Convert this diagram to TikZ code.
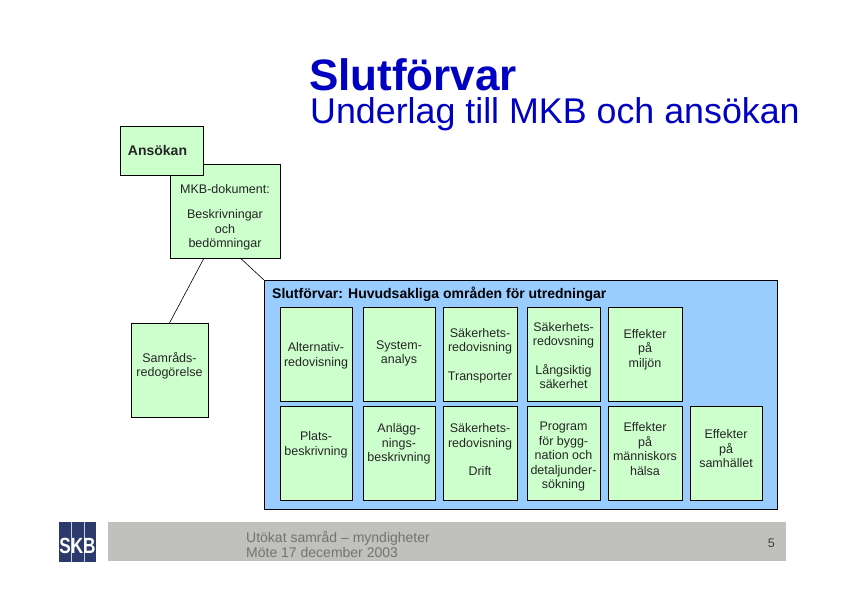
\documentclass[tikz,border=0pt]{standalone}
\usepackage{fontspec}
\setmainfont{Liberation Sans}
\usepackage[svgnames]{xcolor}
\usetikzlibrary{positioning}
\definecolor{paleGreen}{HTML}{CCFFCC}
\definecolor{skyBlue}{HTML}{99CCFF}
\definecolor{footGray}{HTML}{C0C0BC}
\definecolor{skbNavy}{HTML}{2B3A6B}
\definecolor{titleBlue}{HTML}{0000C0}

\begin{document}
\begin{tikzpicture}[
    x=1pt, y=-1pt,
    box/.style={draw, fill=paleGreen, line width=0.7pt, outer sep=0pt, inner sep=0pt, align=center, font=\fontsize{12.5}{14.5}\selectfont, text=black!85},
    areabox/.style={box, minimum width=73pt, minimum height=94pt},
    line/.style={draw, line width=0.6pt},
    foottext/.style={font=\fontsize{14}{14.5}\selectfont, text=black!55, align=left}
]
\useasboundingbox (0,0) rectangle (842,595);
% title
\node[anchor=base west, inner sep=0pt, font=\fontsize{44}{44}\bfseries\selectfont, text=titleBlue] (title) at (309,90) {Slutförvar};
\node[anchor=base west, inner sep=0pt, font=\fontsize{35.8}{36}\selectfont, text=titleBlue] (subtitle) at (310,123.5) {Underlag till MKB och ansökan};

% left column
\node[box, anchor=north west, minimum width=110pt, minimum height=94pt] (mkb) at (170,164) {\mbox{}\\[7.5pt]MKB-dokument:\\[11pt]Beskrivningar\\och\\bedömningar};
\node[box, anchor=north west, minimum width=83pt, minimum height=49pt, font=\fontsize{14}{14}\bfseries\selectfont] (ansokan) at (120,126) {Ansökan\hspace*{8pt}};
\node[box, anchor=north west, minimum width=77pt, minimum height=94pt] (samrad) at (131,323) {Samråds-\\redogörelse\\[-3.5pt]\mbox{}};

% blue area
\node[box, anchor=north west, fill=skyBlue, minimum width=513pt, minimum height=229pt] (main) at (264,280) {};
\node[anchor=base west, inner sep=0pt, font=\fontsize{14}{14}\bfseries\selectfont] (maintitle) at (272,298) {Slutförvar: Huvudsakliga områden för utredningar};

% upper row
\node[areabox, minimum width=72pt, anchor=north west] (alt) at (280,307) {\mbox{}\\[-1.5pt]Alternativ-\\redovisning};
\node[areabox, minimum width=72pt, right=11pt of alt] (sys) {\mbox{}\\[-6.5pt]System-\\analys};
\node[areabox, minimum width=74pt, right=8pt of sys] (trans) {\mbox{}\\[-2.5pt]Säkerhets-\\redovisning\\[14pt]Transporter};
\node[areabox, right=10pt of trans] (lang) {\mbox{}\\[-2.5pt]Säkerhets-\\redovsning\\[14pt]Långsiktig\\säkerhet};
\node[areabox, minimum width=74pt, right=8pt of lang] (miljo) {Effekter\\på\\miljön\\[-2.5pt]\mbox{}};

% lower row
\node[areabox, minimum width=72pt, below=5pt of alt] (plats) {Plats-\\beskrivning\\[4.5pt]\mbox{}};
\node[areabox, minimum width=72pt, below=5pt of sys] (anl) {Anlägg-\\nings-\\beskrivning\\[6.5pt]\mbox{}};
\node[areabox, minimum width=74pt, below=5pt of trans] (drift) {Säkerhets-\\redovisning\\[14pt]Drift\\[-7.5pt]\mbox{}};
\node[areabox, below=5pt of lang] (prog) {\mbox{}\\[1.5pt]Program\\för bygg-\\nation och\\detaljunder-\\sökning};
\node[areabox, minimum width=74pt, below=5pt of miljo] (halsa) {Effekter\\på\\människors\\hälsa\\[-6.5pt]\mbox{}};
\node[areabox, minimum width=72pt, right=8pt of halsa] (sam) {Effekter\\på\\samhället\\[-5.5pt]\mbox{}};

\draw[line] (mkb.-114) -- (samrad.north);
\draw[line] (mkb.-72) -- (main.north west);

% footer
\node[anchor=north west, fill=footGray, minimum width=678pt, minimum height=39pt, inner sep=0pt, outer sep=0pt] (foot) at (108,522) {};
\node[foottext, anchor=west, inner sep=0pt] (footnote) at (246,544.5) {Utökat samråd – myndigheter\\Möte 17 december 2003};
\node[anchor=east, inner sep=0pt, font=\fontsize{12.5}{14}\selectfont, text=black!75] (pageno) at (775,543) {5};

% logo
\node[anchor=north west, fill=skbNavy, minimum width=37pt, minimum height=40pt, inner sep=0pt, outer sep=0pt] (logo) at (59,522) {};
\draw[white!75!skbNavy, line width=0.8pt] (71,522) -- (71,562) (84,522) -- (84,562);
\node[anchor=base, inner sep=0pt, xscale=0.78, transform shape, font=\fontsize{22}{22}\bfseries\selectfont, text=white] (logotext) at (77.5,553.5) {SKB};
\end{tikzpicture}
\end{document}
